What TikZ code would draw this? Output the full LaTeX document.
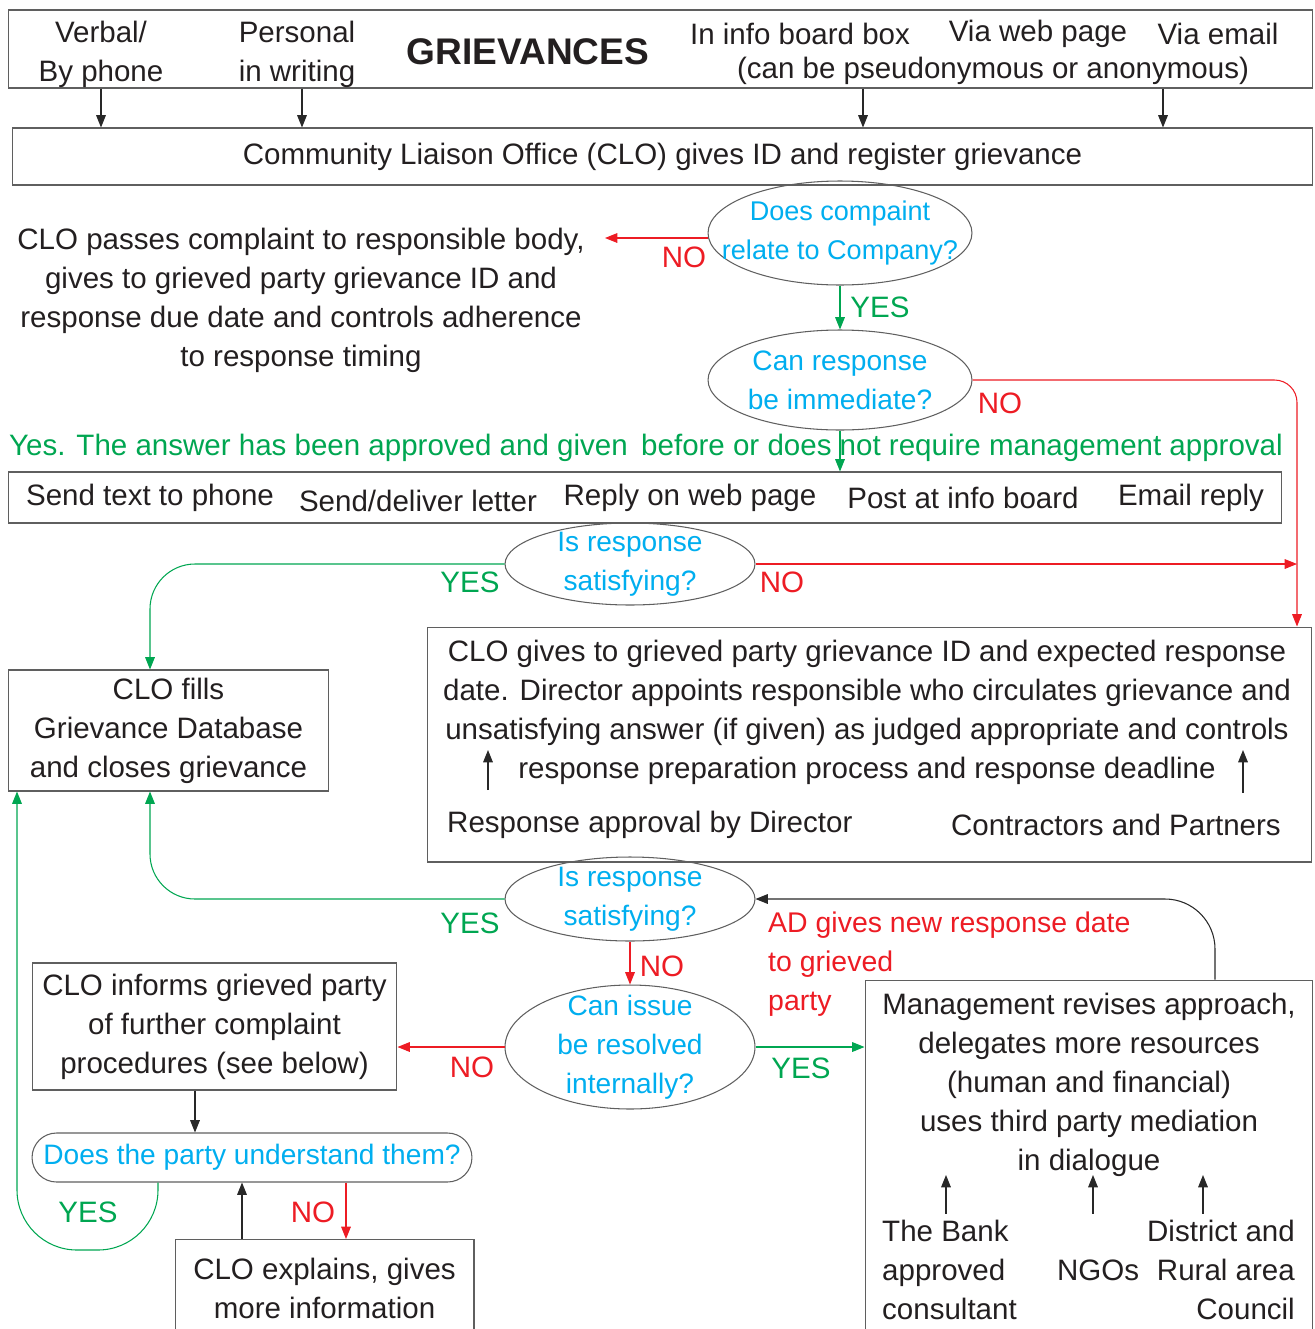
\documentclass[tikz,border=0pt]{standalone}
\usepackage{fontspec}
\setmainfont{Liberation Sans}
\usepackage{xcolor}
\usetikzlibrary{shapes.geometric,arrows.meta}

\definecolor{txtgray}{RGB}{35,31,32}
\definecolor{linegray}{RGB}{95,95,95}
\definecolor{arrgray}{RGB}{40,40,40}
\definecolor{noRed}{RGB}{237,28,36}
\definecolor{yesGreen}{RGB}{0,166,81}
\definecolor{askCyan}{RGB}{0,174,239}

\begin{document}
\begin{tikzpicture}[x=0.02cm, y=-0.02cm,
    every node/.style={font=\fontsize{16.8}{22.2}\selectfont, text=txtgray},
    box/.style={draw=linegray, line width=0.6pt, inner sep=0pt, align=center},
    ask/.style={ellipse, draw=linegray, line width=0.6pt, inner sep=0pt},
    asktxt/.style={align=center, text=askCyan, font=\fontsize{16}{22.2}\selectfont},
    arr/.style={-{Triangle[length=7pt,width=5.5pt]}, line width=0.6pt, arrgray},
    noarr/.style={arr, noRed},
    yesarr/.style={arr, yesGreen},
    nolbl/.style={text=noRed},
    yeslbl/.style={text=yesGreen}]
    \useasboundingbox (0,0) rectangle (1315,1329);

    % Ways a grievance comes in
    \node[box, minimum width=26.1cm, minimum height=1.56cm] (src) at (660.5,49) {};
    \node[align=center] (verbal) at (101,54) {Verbal/\\By phone};
    \node[align=center] (personal) at (297,54) {Personal\\in writing};
    \node[font=\fontsize{21.1}{24}\selectfont\bfseries] (title) at (528,52) {GRIEVANCES};
    \node (infobox) at (800,34) {In info board box};
    \node (webpage) at (1038,34) {Via web page};
    \node (email) at (1218,34) {Via email};
    \node (anon) at (993,71) {(can be pseudonymous or anonymous)};

    % Registration
    \node[box, minimum width=26.02cm, minimum height=1.14cm] (clo) at (662.5,156.5)
        {Community Liaison Office (CLO) gives ID and register grievance};
    \foreach \c [count=\i] in {101,302,863,1163} {
        \coordinate (in\i) at (\c,0);
        \draw[arr] (src.south -| in\i) -- (clo.north -| in\i);
    }

    % First questions
    \node[ask, minimum width=5.28cm, minimum height=2.08cm] (q1) at (840,233) {};
    \node[asktxt, font=\fontsize{15.4}{22.2}\selectfont] at (q1) {Does compaint\\relate to Company?};
    \node[align=center] (passes) at (301,300) {CLO passes complaint to responsible body,\\gives to grieved party grievance ID and\\response due date and controls adherence\\to response timing};
    \coordinate (noend1) at (605,238);
    \draw[noarr] (q1.west |- noend1) -- (noend1);
    \node[nolbl] at (684,257) {NO};
    \node[ask, minimum width=5.28cm, minimum height=2cm] (q2) at (840,380) {};
    \node[asktxt] at (q2) {Can response\\be immediate?};
    \draw[yesarr] (q1.south) -- (q2.north);
    \node[yeslbl] at (880,307) {YES};
    \node[nolbl] at (1000,403) {NO};

    % Immediate answer
    \node[yeslbl, anchor=west] (yes1) at (3,448) {Yes. The answer has been approved and given};
    \node[yeslbl, anchor=east] (yes2) at (1289,448) {before or does not require management approval};
    \node[box, minimum width=25.48cm, minimum height=1.02cm] (send) at (645,497.5) {};
    \node (phone) at (150,498) {Send text to phone};
    \node (letter) at (418,501) {Send/deliver letter};
    \node (web) at (690,498) {Reply on web page};
    \node (board) at (963,498) {Post at info board};
    \node (reply) at (1191,498) {Email reply};
    \draw[yesarr] (q2.south) -- (q2.south |- send.north);

    \node[ask, minimum width=5cm, minimum height=1.64cm] (q3) at (630,564) {};
    \node[asktxt] at (q3) {Is response\\satisfying?};
    \node[yeslbl] at (470,582) {YES};
    \node[nolbl] at (782,582) {NO};

    % Closing
    \node[box, minimum width=6.42cm, minimum height=2.42cm] (fills) at (168.5,730.5) {CLO fills\\Grievance Database\\and closes grievance};
    \coordinate (c150) at (150,0);
    \draw[yesarr, rounded corners=0.9cm] (q3.west) -- (q3.west -| c150) -- (fills.north -| c150);

    % Formal handling
    \node[box, minimum width=17.7cm, minimum height=4.7cm] (big) at (869.5,744.5) {};
    \node[align=center] (bigtxt) at (867,712) {CLO gives to grieved party grievance ID and expected response\\date. Director appoints responsible who circulates grievance and\\unsatisfying answer (if given) as judged appropriate and controls\\response preparation process and response deadline};
    \node[anchor=west] (appr) at (441,825) {Response approval by Director};
    \node[anchor=east] (partners) at (1287,825) {Contractors and Partners};
    \coordinate (d1) at (488,750);
    \coordinate (d2) at (1243,750);
    \draw[arr, shorten <=0.3cm] (appr.north -| d1) -- (d1);
    \draw[arr, shorten <=0.3cm] (partners.north -| d2) -- (d2);
    \coordinate (nocol) at (1297,0);
    \draw[noarr, rounded corners=0.45cm] (q2.east) -- (q2.east -| nocol) -- (big.north -| nocol);
    \draw[noarr] (q3.east) -- (q3.east -| nocol);

    % Second check
    \node[ask, minimum width=5cm, minimum height=1.68cm] (q4) at (630,899) {};
    \node[asktxt] at (q4) {Is response\\satisfying?};
    \draw[yesarr, rounded corners=0.9cm] (q4.west) -- (q4.west -| c150) -- (fills.south -| c150);
    \node[yeslbl] at (470,923) {YES};
    \node[ask, minimum width=5cm, minimum height=2.48cm] (q5) at (630,1047) {};
    \node[asktxt] at (q5) {Can issue\\be resolved\\internally?};
    \draw[noarr] (q4.south) -- (q5.north);
    \node[nolbl] at (662,966) {NO};

    % Management
    \node[box, minimum width=8.96cm, minimum height=7.2cm] (mgmt) at (1089,1160) {};
    \node[align=center] (mgtxt) at (1089,1085) {Management revises approach,\\delegates more resources\\(human and financial)\\uses third party mediation\\in dialogue};
    \node[align=left, anchor=west] (bank) at (876,1270) {The Bank\\approved\\consultant};
    \node (ngo) at (1098,1270) {NGOs};
    \node[align=right, anchor=east] (council) at (1301,1270) {District and\\Rural area\\Council};
    \foreach \c [count=\i] in {946,1093,1203} {
        \coordinate (m\i) at (\c,1175);
        \draw[arr] (bank.north -| m\i) -- (m\i);
    }
    \draw[yesarr] (q5.east) -- (q5.east -| mgmt.west);
    \node[yeslbl] at (801,1068) {YES};
    \coordinate (back) at (1215,0);
    \draw[arr, rounded corners=1cm] (mgmt.north -| back) -- (back |- q4.east) -- (q4.east);
    \node[nolbl, align=left, anchor=west, font=\fontsize{16.2}{22.2}\selectfont] (newdate) at (762,964) {AD gives new response date\\to grieved\\party};

    % Further procedures
    \node[box, minimum width=7.3cm, minimum height=2.54cm] (inform) at (214.5,1026.5) {CLO informs grieved party\\of further complaint\\procedures (see below)};
    \draw[noarr] (q5.west) -- (q5.west -| inform.east);
    \node[nolbl] at (472,1067) {NO};
    \node[box, rounded corners=0.49cm, minimum width=8.8cm, minimum height=0.98cm, text=askCyan, font=\fontsize{16}{22.2}\selectfont] (understand) at (252,1157.5) {Does the party understand them?};
    \coordinate (c195) at (195,0);
    \draw[arr] (inform.south -| c195) -- (understand.north -| c195);
    \node[box, minimum width=5.98cm, minimum height=1.94cm] (explain) at (324.5,1288) {CLO explains, gives\\more information};
    \coordinate (c242) at (242,0);
    \coordinate (c346) at (346,0);
    \draw[arr] (explain.north -| c242) -- (understand.south -| c242);
    \draw[noarr] (understand.south -| c346) -- (explain.north -| c346);
    \node[nolbl] at (313,1212) {NO};
    \coordinate (c158) at (158,0);
    \coordinate (c17) at (17,1250);
    \draw[yesarr, rounded corners=1.2cm] (understand.south -| c158) -- (c158 |- c17) -- (c17) -- (fills.south -| c17);
    \node[yeslbl] at (88,1212) {YES};
\end{tikzpicture}
\end{document}
